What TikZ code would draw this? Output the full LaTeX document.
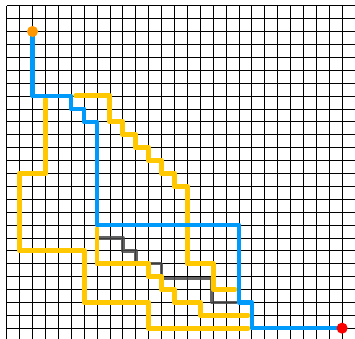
\documentclass[tikz,border=0pt]{standalone}
\usepackage{tikz}
\definecolor{pathblue}{RGB}{0,155,250}
\definecolor{pathyellow}{RGB}{255,200,0}
\definecolor{pathgray}{RGB}{70,70,70}
\definecolor{startorange}{RGB}{255,152,0}
\definecolor{goalred}{RGB}{250,0,0}
\tikzset{
    gridline/.style={
        line width=0.7pt,
        black
    },
    % coloured routes over the grid
    bluepath/.style={
        line width=5pt,
        pathblue,
        line join=round,
        line cap=round
    },
    yellowpath/.style={
        line width=5.5pt,
        pathyellow,
        line join=round,
        line cap=round
    },
    graypath/.style={
        line width=4pt,
        pathgray,
        opacity=0.85,
        line join=round,
        line cap=round
    }
}
\begin{document}
\begin{tikzpicture}[x=5mm,y=5mm]
   \useasboundingbox (-0.52,0.44) rectangle (27.0,-25.84);
   \path
    (2,-2) coordinate (start)
    (26,-25) coordinate (goal);

    % grid
    \draw[gridline, step=1] (0,0) grid (26.99,-25.84);

    % gray route
    \draw[graypath] (7.2,-18) -- (9,-18) -- (9,-19) -- (10,-19) -- (10,-20)
      -- (12,-20) -- (12,-21.15) -- (15.9,-21.15) -- (15.9,-23) -- (17.8,-23);

    % yellow routes
    \draw[yellowpath] (3,-7.25) -- (3,-13) -- (1,-13) -- (1,-19) -- (6,-19)
      -- (6,-23) -- (11,-23) -- (11,-25) -- (18.7,-25);
    \draw[yellowpath] (5.35,-7) -- (8,-7) -- (8,-9) -- (9,-9) -- (9,-10)
      -- (10,-10) -- (10,-11) -- (11,-11) -- (11,-12) -- (12,-12) -- (12,-13)
      -- (13,-13) -- (13,-14) -- (14,-14) -- (14,-20) -- (16,-20) -- (16,-22)
      -- (17.7,-22);
    \draw[yellowpath] (7,-17.3) -- (7,-20) -- (11,-20) -- (11,-21) -- (12,-21)
      -- (12,-22) -- (13,-22) -- (13,-23) -- (15,-23) -- (15,-24) -- (18.7,-24);

    % blue route
    \draw[bluepath] (start) -- (2,-7) -- (5,-7) -- (5,-8) -- (6,-8) -- (6,-9)
      -- (7,-9) -- (7,-17) -- (18,-17) -- (18,-23) -- (19,-23) -- (19,-25)
      -- (goal);

    % start and goal
    \fill[startorange] (start) circle (0.43);
    \fill[goalred] (goal) circle (0.43);
\end{tikzpicture}
\end{document}
